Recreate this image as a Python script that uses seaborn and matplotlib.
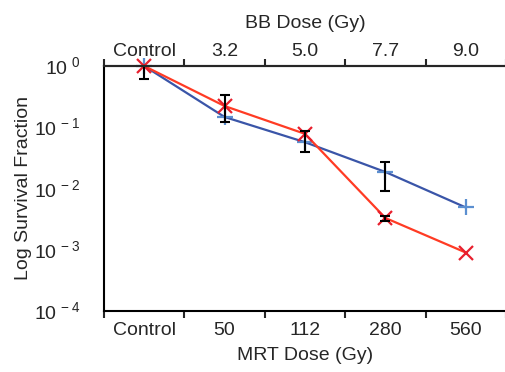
import numpy as np
import pandas as pd
import matplotlib
matplotlib.use("Agg")
import matplotlib.pyplot as plt
import seaborn as sns
from matplotlib.ticker import FixedLocator, NullFormatter, FixedFormatter

# ============================
# Data
# ============================
mrt_labels = ["Control", "50", "112", "280", "560"]
bb_labels = ["Control", "3.2", "5.0", "7.7", "9.0"]

bb_surv = [1.0, 0.147, 0.057, 0.0186, 0.0049]
mrt_surv = [1.0, 0.222, 0.078, 0.0033, 0.0009]

# error bars: centre, lower, upper (absolute)
err_pos = [0, 1, 2, 3, 3]
err_mid = [1.0, 0.222, 0.060, 0.0186, 0.0033]
err_lo = [0.39, 0.10, 0.021, 0.0095, 0.0003]
err_hi = [0.39, 0.114, 0.027, 0.0084, 0.0003]

sns.set_style("white")
plt.rcParams['font.family'] = ['Liberation Sans', 'DejaVu Sans']
plt.rcParams['mathtext.fontset'] = 'custom'
plt.rcParams['mathtext.rm'] = 'Liberation Sans'

fs = 14

fig = plt.figure(figsize=(5.06, 3.72), dpi=100)
ax = fig.add_axes([0.2055, 0.164, 0.7945, 0.6586])

pos = np.arange(len(mrt_labels))
df = pd.DataFrame({"pos": np.concatenate([pos, pos]),
                   "surv": bb_surv + mrt_surv,
                   "group": ["BB"] * 5 + ["MRT"] * 5})

sns.lineplot(data=df[df.group == "BB"], x="pos", y="surv", ax=ax,
             color="#3a55a8", lw=1.6, marker="+", markersize=11,
             markeredgewidth=1.6, markeredgecolor="#5b8fd0", clip_on=False)
sns.lineplot(data=df[df.group == "MRT"], x="pos", y="surv", ax=ax,
             color="#ff3b24", lw=1.6, marker="x", markersize=10,
             markeredgewidth=1.6, markeredgecolor="#e8202e", clip_on=False)

ax.errorbar(err_pos, err_mid, yerr=[err_lo, err_hi], fmt="none",
            ecolor="black", elinewidth=1.5, capsize=3.5, capthick=1.5,
            zorder=5)

ax.set_yscale("log")
ax.set_ylim(1e-4, 1)
ax.set_xlim(-0.5, 4.5)

ax.yaxis.set_major_locator(FixedLocator([1e-4, 1e-3, 1e-2, 1e-1, 1]))
ax.yaxis.set_minor_locator(FixedLocator([]))
ax.set_yticklabels([r"$10^{\,-4}$", r"$10^{\,-3}$", r"$10^{\,-2}$",
                    r"$10^{\,-1}$", r"$10^{\,\,0}$"])

ax.xaxis.set_major_locator(FixedLocator(np.arange(-0.5, 5, 1)))
ax.xaxis.set_major_formatter(NullFormatter())
ax.xaxis.set_minor_locator(FixedLocator(pos))
ax.xaxis.set_minor_formatter(FixedFormatter(mrt_labels))
ax.tick_params(axis="x", which="minor", length=0, labelsize=fs, pad=8)
ax.tick_params(axis="x", which="major", length=5, width=1.5, direction="out")
ax.tick_params(axis="y", which="major", length=5, width=1.5,
               direction="out", labelsize=fs, pad=12)

ax.set_xlabel("MRT Dose (Gy)", fontsize=fs, labelpad=6)
ax.set_ylabel("Log Survival Fraction", fontsize=fs)
ax.yaxis.set_label_coords(-0.18, 0.5)

for s in ["left", "bottom", "top"]:
    ax.spines[s].set_linewidth(1.5)
    ax.spines[s].set_color("black")
ax.spines["right"].set_visible(False)

# top axis for BB doses
top = ax.twiny()
top.set_xlim(ax.get_xlim())
top.xaxis.set_major_locator(FixedLocator(np.arange(-0.5, 5, 1)))
top.xaxis.set_major_formatter(NullFormatter())
top.xaxis.set_minor_locator(FixedLocator(pos))
top.xaxis.set_minor_formatter(FixedFormatter(bb_labels))
top.tick_params(axis="x", which="minor", length=0, labelsize=fs, pad=4)
top.tick_params(axis="x", which="major", length=5, width=1.5, direction="out")
top.set_xlabel("BB Dose (Gy)", fontsize=fs, labelpad=11)
for s in ["left", "right", "bottom"]:
    top.spines[s].set_visible(False)
top.spines["top"].set_linewidth(1.5)

fig.savefig("out.png", dpi=100)
